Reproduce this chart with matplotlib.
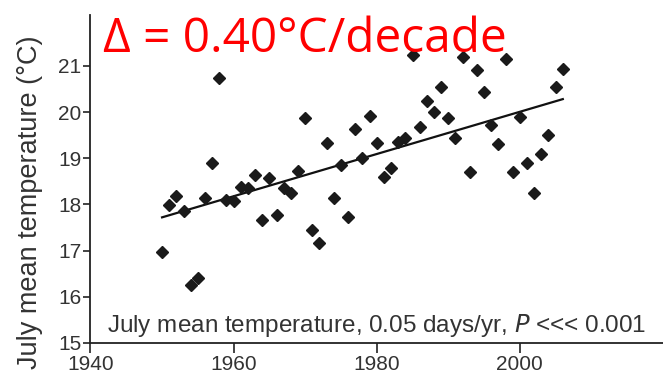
import numpy as np
import matplotlib
matplotlib.use("Agg")
import matplotlib.pyplot as plt

# ---------------------------------------------
# Data
# ---------------------------------------------
years = np.arange(1950, 2007)
july_temp = [
    16.97, 17.99, 18.18, 17.86, 16.26, 16.41, 18.14, 18.90, 20.74, 18.10,
    18.07, 18.38, 18.35, 18.64, 17.66, 18.57, 17.77, 18.35, 18.25, 18.72,
    19.87, 17.45, 17.16, 19.33, 18.14, 18.85, 17.73, 19.63, 19.00, 19.91,
    19.33, 18.59, 18.79, 19.35, 19.44, 21.23, 19.68, 20.24, 20.00, 20.54,
    19.87, 19.44, 21.19, 18.70, 20.91, 20.43, 19.72, 19.31, 21.15, 18.70,
    19.89, 18.90, 18.25, 19.09, 19.50, 20.54, 20.93,
]
trend_years = [1950, 2006]
trend_temps = [17.72, 20.28]

x_ticks = [1940, 1960, 1980, 2000]
y_ticks = [15, 16, 17, 18, 19, 20, 21]

# ---------------------------------------------
# Figure
# ---------------------------------------------
plt.rcParams['font.family'] = ['Liberation Sans', 'DejaVu Sans']

fig = plt.figure(figsize=(6.63, 3.80), dpi=100)
ax = fig.add_axes([0.1365, 0.0974, 0.8635, 0.863])

ax.plot(trend_years, trend_temps, color="#111111", linewidth=1.6, zorder=2)
ax.plot(years, july_temp, linestyle="none", marker="D", markersize=6.6,
        color="#1a1a1a", zorder=3)

ax.set_xlim(1940, 2020)
ax.set_ylim(15, 22.1)
ax.set_xticks(x_ticks)
ax.set_yticks(y_ticks)

for side in ["top", "right"]:
    ax.spines[side].set_visible(False)
for side in ["left", "bottom"]:
    ax.spines[side].set_linewidth(1.3)
    ax.spines[side].set_color("#222222")

ax.tick_params(axis="both", direction="out", width=1.2,
               colors="#222222", labelcolor="#333333", labelsize=15)
ax.tick_params(axis="y", length=5, pad=1.5)
ax.tick_params(axis="x", length=7, pad=2)

ax.set_ylabel("July mean temperature (°C)", fontsize=19.5, color="#333333")
ax.yaxis.set_label_coords(-0.083, 0.43)

ax.text(1942.3, 15.24,
        "July mean temperature, 0.05 days/yr, $\\it{P}$ <<< 0.001",
        fontsize=17.5, color="#333333", ha="left", va="baseline")

fig.text(0.155, 0.863, "Δ = 0.40°C/decade", fontsize=34.5, color="#ff0000",
         family=["Open Sans", "DejaVu Sans"], ha="left", va="baseline")

fig.savefig("out.png", dpi=100)
